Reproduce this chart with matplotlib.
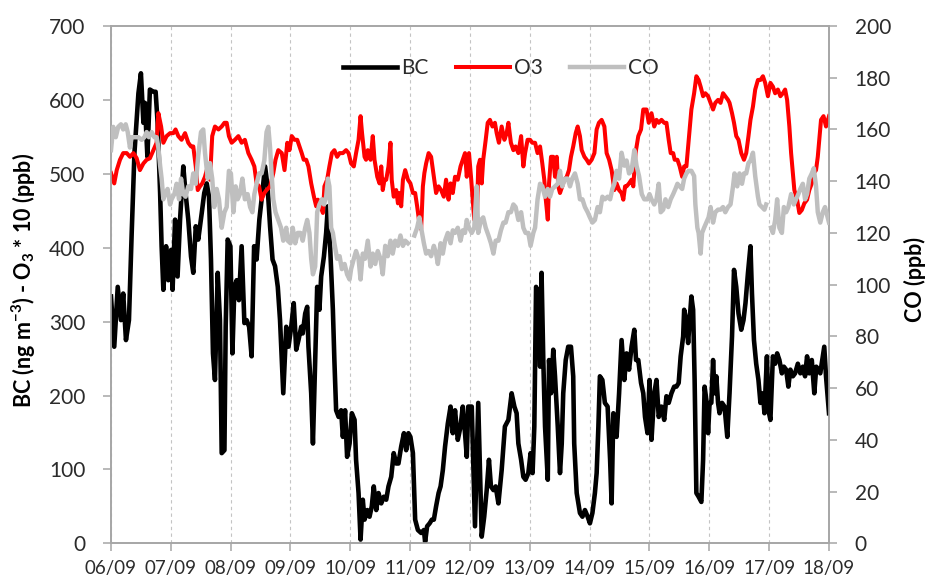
import numpy as np
import matplotlib
matplotlib.use("Agg")
import matplotlib.pyplot as plt

# ---------------------------------------------------------------
# Hourly observations, 06/09 00:00 to 18/09 00:00 (hours since start)
# ---------------------------------------------------------------
date_labels = ["06/09", "07/09", "08/09", "09/09", "10/09", "11/09", "12/09",
               "13/09", "14/09", "15/09", "16/09", "17/09", "18/09"]

# Black carbon (ng m-3)
bc_hours = [0.0, 1.3, 2.7, 4.0, 4.9, 6.0, 7.2, 8.3, 9.4, 11.0, 12.0, 13.0, 13.6, 14.6, 15.6,
            17.0, 17.9, 18.7, 19.7, 20.3, 21.0, 22.1, 23.0, 24.1, 24.7, 25.7, 26.7, 27.7,
            29.0, 29.9, 31.0, 32.1, 33.0, 34.0, 35.0, 36.4, 37.4, 38.4, 39.3, 40.1, 40.9,
            41.7, 42.8, 43.7, 44.4, 45.5, 46.0, 46.8, 47.9, 48.7, 49.5, 50.4, 51.3, 52.4,
            53.5, 54.4, 55.4, 56.4, 57.4, 58.4, 59.5, 60.4, 61.8, 62.8, 63.8, 64.8, 65.8,
            66.9, 67.8, 69.1, 70.3, 71.2, 72.3, 73.3, 74.3, 75.2, 76.3, 76.9, 77.9, 78.7,
            79.2, 80.3, 81.0, 81.9, 82.7, 83.6, 84.3, 85.4, 86.3, 87.0, 88.0, 89.0, 89.6,
            90.3, 91.3, 92.3, 93.0, 93.9, 94.7, 95.7, 96.6, 97.7, 98.3, 99.3, 100.1, 101.0,
            101.7, 102.8, 103.7, 104.6, 105.4, 106.4, 107.3, 108.4, 109.4, 110.4, 111.3,
            112.4, 113.4, 114.4, 115.3, 116.4, 117.5, 118.4, 119.3, 120.1, 121.1, 122.0,
            123.1, 124.4, 125.5, 126.0, 126.8, 127.8, 128.7, 129.5, 130.4, 131.4, 132.2,
            133.1, 134.0, 135.1, 136.2, 137.1, 138.0, 139.1, 140.2, 141.1, 142.0, 142.7,
            143.3, 144.7, 146.0, 147.3, 148.7, 149.7, 150.7, 151.6, 152.4, 153.4, 154.3,
            155.4, 156.7, 158.0, 159.4, 160.7, 161.8, 162.7, 163.4, 164.5, 165.4, 166.3,
            167.4, 168.3, 169.1, 169.8, 170.5, 171.4, 172.1, 172.7, 173.4, 174.1, 175.2,
            175.7, 176.5, 177.4, 178.1, 179.2, 180.1, 180.8, 181.4, 182.4, 183.4, 184.5,
            185.4, 185.8, 186.8, 188.1, 189.1, 190.1, 191.2, 192.1, 193.1, 194.1, 194.8,
            195.5, 196.1, 197.1, 198.1, 199.2, 200.2, 200.8, 201.5, 202.2, 202.8, 203.8,
            204.8, 205.9, 206.8, 207.8, 208.8, 209.9, 210.6, 211.5, 212.6, 213.5, 214.2,
            215.2, 216.0, 216.8, 217.9, 218.8, 219.7, 220.8, 221.9, 222.8, 223.7, 224.8,
            225.9, 226.8, 227.7, 228.5, 229.5, 229.9, 230.8, 231.5, 232.1, 232.8, 233.5,
            234.1, 234.8, 235.7, 236.8, 237.5, 238.1, 238.8, 239.5, 240.1, 240.8, 241.5,
            242.1, 242.8, 243.5, 244.1, 245.1, 246.1, 247.2, 248.1, 249.1, 249.9, 250.8,
            251.7, 252.8, 253.7, 254.5, 255.5, 256.5, 257.1, 257.9, 258.8, 259.7, 260.5,
            261.5, 262.1, 263.1, 263.7, 264.5, 265.5, 266.4, 267.2, 268.1, 269.1, 269.9,
            270.8, 271.7, 272.5, 273.5, 274.4, 275.5, 276.5, 277.5, 278.4, 279.2, 280.1,
            281.1, 282.1, 282.9, 283.7, 284.5, 285.5, 286.1, 286.8, 288.0]
bc_values = [334, 266, 347, 302, 338, 275, 302, 420, 528, 609, 636, 569, 596, 523, 614,
             611, 611, 569, 474, 402, 343, 402, 356, 397, 343, 438, 361, 438,
             510, 474, 438, 388, 366, 429, 411, 447, 474, 487, 469, 384, 257,
             221, 366, 302, 122, 126, 293, 411, 402, 257, 347, 356, 329, 402,
             298, 302, 293, 253, 402, 384, 438, 465, 510, 483, 429, 384, 375,
             347, 302, 203, 293, 266, 293, 325, 262, 275, 293, 284, 311, 320,
             266, 203, 135, 248, 347, 316, 361, 388, 420, 456, 393, 316, 248,
             180, 171, 180, 144, 180, 117, 135, 176, 167, 113, 68, 5, 59,
             32, 45, 36, 50, 77, 45, 68, 54, 63, 59, 77,
             90, 122, 108, 108, 131, 149, 126, 149, 144, 122, 32,
             18, 14, 18, 2, 23, 27, 32, 32, 50, 68, 77,
             99, 131, 162, 185, 149, 180, 140, 158, 185, 149, 117,
             185, 185, 23, 190, 9, 36, 72, 113, 77, 72, 77,
             54, 99, 158, 167, 203, 185, 176, 135, 113, 90, 86,
             95, 122, 95, 158, 347, 338, 239, 366, 248, 158, 86,
             248, 203, 262, 226, 158, 95, 135, 203, 248, 266, 266,
             226, 135, 68, 41, 36, 45, 36, 27, 41, 68, 95,
             158, 226, 221, 190, 185, 113, 54, 176, 171, 144, 203,
             275, 221, 257, 235, 266, 289, 248, 248, 217, 203, 171,
             149, 221, 140, 203, 221, 171, 185, 167, 199, 190, 203,
             212, 212, 217, 253, 280, 316, 302, 271, 302, 334, 316,
             221, 68, 63, 56, 113, 212, 194, 149, 190, 190, 248,
             203, 226, 190, 176, 190, 185, 144, 203, 280, 370, 347,
             311, 289, 302, 325, 366, 402, 338, 275, 243, 221, 190,
             203, 176, 253, 180, 167, 253, 243, 257, 248, 230, 239,
             235, 212, 235, 226, 230, 243, 230, 239, 226, 253, 230,
             248, 203, 239, 235, 230, 253, 266, 226, 176]

# Ozone (ppb); drawn multiplied by 10 on the left axis
o3_hours = [0.0, 1.3, 2.3, 3.6, 4.9, 6.3, 7.6, 9.0, 10.3, 11.6, 13.0, 14.3, 15.6, 17.0,
            18.3, 19.0, 20.1, 21.0, 22.3, 23.7, 25.0, 25.9, 27.0, 28.3, 29.7, 31.0, 32.1,
            33.0, 34.0, 34.8, 35.7, 36.6, 37.7, 38.8, 39.7, 40.6, 41.7, 43.1, 44.4, 45.5,
            46.4, 47.3, 48.4, 49.7, 51.1, 52.4, 53.7, 55.1, 56.4, 57.5, 58.4, 59.4, 60.4,
            61.5, 62.4, 63.8, 65.1, 66.0, 67.1, 68.5, 69.6, 70.7, 71.6, 72.5, 73.6, 74.7,
            75.6, 76.5, 77.3, 78.3, 79.2, 80.3, 81.4, 82.3, 83.0, 84.0, 85.0, 85.6, 86.7,
            87.6, 88.6, 89.6, 90.7, 91.7, 93.0, 94.3, 95.3, 96.3, 97.4, 98.3, 99.3, 100.1,
            100.7, 101.7, 102.3, 103.0, 104.1, 105.0, 105.7, 106.8, 107.7, 108.4, 109.0,
            109.7, 110.4, 111.3, 112.1, 112.6, 113.4, 114.4, 115.1, 115.7, 116.4, 117.1,
            118.0, 119.1, 120.1, 121.1, 122.0, 122.8, 123.7, 124.4, 125.1, 125.7, 126.4,
            127.4, 128.4, 129.5, 130.4, 131.4, 132.4, 133.5, 134.4, 135.4, 136.2, 137.1,
            138.0, 139.1, 140.2, 141.1, 142.0, 142.7, 143.6, 144.4, 144.9, 145.7, 146.7,
            147.3, 148.0, 148.7, 149.3, 150.3, 151.1, 152.0, 153.0, 154.0, 154.7, 155.6,
            156.7, 157.8, 158.7, 159.4, 160.4, 161.4, 162.3, 163.4, 164.5, 165.4, 166.1,
            167.1, 168.1, 169.0, 170.1, 171.1, 172.1, 173.0, 173.8, 174.4, 175.2, 175.7,
            176.5, 177.4, 178.1, 178.8, 179.4, 180.1, 181.0, 181.8, 182.8, 183.7, 184.5,
            185.4, 186.4, 187.2, 188.1, 188.8, 189.9, 190.8, 191.7, 192.8, 193.9, 194.8,
            195.7, 196.8, 197.9, 198.8, 199.8, 200.8, 201.9, 202.8, 203.8, 204.8, 205.5,
            206.2, 206.8, 207.8, 208.8, 209.5, 210.4, 211.5, 212.6, 213.5, 214.8, 215.7,
            216.8, 217.9, 218.8, 219.7, 220.8, 221.9, 222.8, 223.7, 224.5, 225.5, 226.1,
            227.2, 228.1, 229.1, 229.9, 230.8, 231.5, 232.1, 232.8, 233.9, 234.8, 235.7,
            236.5, 237.5, 238.4, 239.5, 240.5, 241.5, 242.4, 243.5, 244.5, 245.5, 246.4,
            247.5, 248.1, 249.1, 249.9, 250.8, 251.7, 252.8, 253.9, 254.8, 255.7, 256.5,
            257.5, 258.4, 259.5, 260.5, 261.5, 262.4, 263.5, 264.5, 265.5, 266.4, 267.5,
            268.5, 269.5, 270.4, 271.2, 272.1, 272.8, 273.5, 274.1, 275.2, 276.1, 277.1,
            278.1, 279.2, 280.1, 281.1, 281.9, 282.8, 283.5, 284.1, 284.8, 285.8, 286.8,
            288.0]
o3_ppb = [50.1, 48.7, 50.5, 51.9, 52.8, 52.8, 52.3, 52.8, 52.1, 50.5, 51.4, 51.9, 52.1, 53.2,
          54.2, 58.2, 56.4, 54.2, 55.1, 55.5, 55.5, 56.0, 55.1, 54.6, 55.5, 54.2, 53.7,
          53.7, 51.0, 47.8, 48.3, 48.7, 49.6, 51.0, 49.2, 55.1, 56.4, 56.0, 56.4, 56.9,
          56.9, 55.1, 54.2, 54.6, 55.1, 54.2, 54.6, 52.8, 51.9, 51.0, 48.7, 48.3, 46.5,
          47.4, 47.8, 48.3, 50.1, 51.9, 53.2, 52.8, 50.5, 54.2, 53.2, 55.1, 54.6, 54.6,
          53.7, 52.8, 51.9, 51.9, 51.0, 48.7, 46.9, 45.6, 46.5, 45.6, 44.7, 48.3, 49.2,
          51.0, 52.8, 53.2, 52.3, 52.8, 52.8, 53.2, 52.8, 51.4, 51.0, 52.8, 54.6, 57.8,
          55.5, 52.3, 51.9, 53.2, 51.9, 55.1, 51.9, 49.6, 48.7, 51.0, 47.8,
          49.2, 49.2, 51.0, 54.2, 49.2, 46.9, 47.8, 46.0, 47.4, 45.6, 49.2,
          50.5, 49.2, 48.7, 47.4, 47.4, 45.6, 43.3, 42.5, 48.3, 50.1, 51.4,
          52.8, 52.3, 49.6, 47.4, 48.3, 47.8, 46.9, 49.2, 46.5, 48.7, 47.4,
          49.6, 49.2, 51.0, 51.9, 52.8, 49.6, 52.8, 49.6, 47.4, 43.8, 43.3,
          51.0, 51.9, 48.7, 51.9, 54.6, 56.9, 57.3, 56.4, 56.9, 55.5, 54.2,
          56.4, 54.6, 55.5, 56.9, 54.2, 53.2, 53.7, 52.8, 55.1, 51.0, 52.8,
          54.6, 54.6, 54.2, 54.2, 52.8, 53.7, 51.4, 49.2, 46.5, 43.8, 48.7,
          52.3, 52.3, 49.6, 52.3, 48.3, 47.4, 48.3, 49.2, 49.6, 50.5, 52.3,
          53.7, 55.5, 56.4, 55.1, 53.2, 52.3, 51.9, 51.4, 51.9, 52.8, 56.0,
          56.9, 57.3, 56.4, 52.8, 51.9, 50.5, 47.8, 48.7, 47.8, 47.4, 46.5,
          48.3, 48.3, 48.7, 49.2, 48.3, 52.8, 55.1, 56.0, 58.7, 58.7, 56.9,
          58.2, 56.4, 57.3, 56.9, 57.3, 56.9, 56.9, 54.6, 52.8, 52.8, 51.9,
          51.9, 51.0, 49.6, 51.0, 51.0, 53.7, 56.0, 58.7, 60.9, 63.2, 62.7,
          61.8, 60.5, 60.9, 60.5, 59.6, 58.7, 59.6, 60.0, 59.6, 60.9, 60.5,
          60.0, 59.6, 58.2, 56.9, 55.1, 54.6, 52.8, 51.9, 52.8, 55.1, 57.3,
          59.1, 61.4, 62.7, 62.7, 63.2, 62.3, 60.5, 62.3, 61.8, 60.9, 61.4,
          60.5, 60.9, 61.4, 60.0, 56.4, 52.8, 50.1, 47.8, 46.5, 44.7, 45.1,
          46.0, 46.5, 47.8, 48.7, 50.1, 50.5, 52.3, 54.6, 57.3, 57.8, 56.4,
          57.8]

# Carbon monoxide (ppb), right axis; NaN marks missing records
co_hours = [0.0, 0.9, 1.9, 2.9, 4.0, 4.9, 5.9, 6.7, 7.6, 8.3, 9.4, 10.3, 11.0, 12.3, 13.4,
            14.3, 15.2, 16.3, 17.4, 18.3, 19.0, 19.7, 20.3, 21.0, 21.7, 22.7, 23.7, 24.3,
            25.4, 26.3, 27.3, 28.1, 29.0, 29.9, 31.0, 32.1, 33.0, 34.0, 35.0, 36.1, 37.0,
            37.7, 38.8, 39.7, 40.6, 41.4, 42.4, 43.3, 44.4, 45.5, 46.4, 47.3, 48.1, 49.1,
            50.0, 50.8, 51.7, 52.7, 53.7, 54.8, 55.8, 56.7, 57.5, 58.4, 59.4, 60.4, 61.5,
            62.4, 63.1, 63.8, 64.4, 65.1, 66.0, 67.1, 68.2, 69.1, 70.3, 70.9, 72.0, 72.9,
            73.9, 74.9, 76.0, 76.9, 77.9, 78.7, 79.6, 80.3, 81.0, 81.9, 82.7, 83.6, 84.6,
            85.4, 86.3, 87.0, 87.6, 88.3, 89.0, 89.6, 90.7, 91.7, 92.6, 93.7, 94.7, 95.7,
            96.3, 97.4, 98.3, 99.3, 100.1, 101.0, 101.9, 103.0, 104.1, 105.0, 106.0, 107.0,
            108.1, 109.0, 110.0, 111.0, 112.1, 113.0, 114.0, 115.1, 116.1, 117.1, 118.0,
            119.1, 120.5, 121.7, 122.8, 123.7, 124.4, 125.5, 126.4, 127.4, 128.4, 129.5,
            130.4, 131.1, 132.2, 133.1, 134.0, 135.1, 136.2, 137.1, 138.0, 139.1, 140.2,
            141.1, 142.0, 142.7, 143.6, 144.7, 145.7, 146.7, 147.3, 148.4, 149.3, 150.3,
            151.4, 152.4, 153.4, 154.3, 155.4, 156.4, 157.4, 158.3, 159.4, 160.4, 161.4,
            162.3, 163.4, 164.5, 165.4, 166.3, 167.4, 168.3, 169.4, 170.1, 171.1, 172.1,
            173.0, 174.1, 175.2, 176.1, 177.0, 178.1, 179.2, 180.1, 181.0, 182.1, 183.2,
            184.1, 185.0, 186.1, 187.2, 188.1, 189.1, 190.1, 191.2, 192.1, 193.1, 194.1,
            195.2, 196.1, 197.1, 198.1, 199.2, 200.2, 201.1, 201.9, 202.8, 203.8, 204.8,
            205.9, 206.8, 207.8, 208.8, 209.9, 210.8, 211.8, 212.9, 213.9, 215.2, 216.0,
            216.8, 217.9, 218.8, 219.7, 220.5, 221.5, 222.4, 223.5, 224.5, 225.5, 226.4,
            227.2, 228.1, 229.1, 229.9, 230.8, 231.7, 232.8, 233.9, 234.4, 235.2, 235.7,
            236.5, 237.1, 237.9, 238.8, 239.7, 240.5, 241.5, 242.4, 243.5, 244.5, 245.5,
            246.4, 247.5, 248.5, 249.5, 250.1, 251.2, 252.1, 253.1, 253.9, 254.8, 255.7,
            256.5, 257.5, 258.4, 259.5, 260.1, 261.1, 262.1, 262.8, 263.8, 264.8, 265.5,
            266.4, 267.2, 268.1, 269.1, 269.9, 270.8, 271.7, 272.8, 273.9, 274.8, 275.7,
            276.5, 277.5, 278.4, 279.2, 280.1, 281.1, 281.9, 282.8, 283.5, 284.5, 285.5,
            286.4, 288.0]
co_ppb = [152, 161, 157, 161, 162, 160, 162, 159, 153, 157, 157, 157, 157, 156, 157,
          159, 157, 159, 157, 157, 153, 146, 141, 133, 135, 137, 131, 133,
          135, 139, 133, 141, 135, 134, 138, 137, 143, 139, 150, 159, 160,
          151, 141, 147, 141, 130, 137, 133, 122, 128, 130, 144, 143, 128,
          138, 133, 135, 141, 133, 135, 130, 128, 135, 139, 143, 143, 148,
          159, 161, 153, 143, 133, 128, 125, 122, 117, 122, 117, 116, 122,
          116, 120, 120, 117, 122, 125, 120, 110, 104, 107, 128, 131, 133,
          131, 134, 141, 138, 122, 120, 116, 110, 111, 106, 108, 104, 102,
          106, 110, 113, 110, 102, 112, 110, 117, 107, 112, 108, 113,
          110, 104, 115, 111, 117, 112, 117, 115, 119, 115, 117,
          116, np.nan, 119, 122, 126, 122, 116, 112, 113, 111, 115,
          112, 108, 116, 112, 117, 120, 116, 121, 120, 122, 117,
          121, 120, 125, 122, 120, 122, 138, 120, 125, 126, 122,
          119, 116, 112, 117, 117, 121, 124, 124, 128, 128, 131,
          130, 125, 128, 122, 120, 120, 115, 120, 122, 133, 139,
          138, 134, 137, 134, 137, 138, 139, 144, 138, 141, 141,
          138, 141, 143, 139, 133, 133, 130, 128, 126, 124, 125,
          130, 128, 134, 133, 134, 133, 137, 139, 144, 141, 151,
          146, 148, 143, 144, 152, 146, 142, 135, 133, 133, 135,
          133, 131, 133, 139, 128, 129, 133, 130, 133, 135, 137,
          139, 138, 137, 141, 143, 144, 144, 142, 131, 122, 120,
          112, 120, 122, 124, 126, 130, 124, 128, 129, 129, 130,
          128, 130, 131, 138, 143, 138, 143, 139, 143, 143, 147,
          148, 151, 142, 134, 131, 130, 129, 131, np.nan, 122, 120,
          125, 133, 122, 120, 130, 128, 130, 135, 131, 133, 135,
          137, 139, 133, 135, 141, 143, 145, 138, 128, 124, 128,
          130, 124]

# ---------------------------------------------------------------
plt.rcParams["font.family"] = ["Lato", "DejaVu Sans"]
plt.rcParams["mathtext.default"] = "regular"

W, H = 928, 580
fig = plt.figure(figsize=(W / 100, H / 100), dpi=100)
x0, x1, y_top, y_bot = 111, 829, 26, 543.3
ax = fig.add_axes([x0 / W, (H - y_bot) / H, (x1 - x0) / W, (y_bot - y_top) / H])
ax2 = ax.twinx()

spine_col = "#a6a6a6"
text_col = "#2b2b2b"

line_bc, = ax.plot(bc_hours, bc_values, color="black", lw=3.3,
                   solid_joinstyle="round", label="BC", zorder=3)
line_o3, = ax.plot(o3_hours, np.array(o3_ppb) * 10, color="#ff0000", lw=2.9,
                   solid_joinstyle="round", label="O3", zorder=4)
line_co, = ax2.plot(co_hours, co_ppb, color="#bfbfbf", lw=3.2,
                    solid_joinstyle="round", label="CO", zorder=3)

ax.set_xlim(0, 288)
ax.set_ylim(0, 700)
ax2.set_ylim(0, 200)
ax.set_xticks(np.arange(0, 289, 24))
ax.set_xticklabels(date_labels)
ax.set_yticks(np.arange(0, 701, 100))
ax2.set_yticks(np.arange(0, 201, 20))

ax.grid(axis="x", color="#c4c4c4", lw=0.8, ls=(0, (3, 3)))
ax.set_axisbelow(True)

for a in (ax, ax2):
    for s in a.spines.values():
        s.set_color(spine_col)
        s.set_linewidth(1.2)

ax.tick_params(axis="x", direction="out", length=6, width=1.1, color=spine_col,
               labelsize=13.5, labelcolor=text_col, pad=6)
ax.tick_params(axis="y", direction="out", length=5.5, width=1.1, color=spine_col,
               labelsize=15, labelcolor=text_col, pad=13)
ax2.tick_params(axis="y", direction="out", length=5.5, width=1.1, color=spine_col,
                labelsize=15, labelcolor=text_col, pad=13)

fig.text(24 / W, 1 - 280 / H, r"BC (ng m$^{-3}$) - O$_3$ * 10 (ppb)",
         rotation=90, ha="center", va="center", fontsize=15.5,
         fontweight="bold", color="black")
fig.text(915 / W, 1 - 279 / H, "CO (ppb)", rotation=90, ha="center",
         va="center", fontsize=15.5, fontweight="bold", color="black")

ax2.legend(handles=[line_bc, line_o3, line_co], loc="center",
           bbox_to_anchor=(0.543, 0.919), ncol=3, frameon=False,
           fontsize=15, handlelength=2.6, handletextpad=0.2,
           columnspacing=1.3, labelcolor=text_col)

fig.savefig("out.png", dpi=100)
